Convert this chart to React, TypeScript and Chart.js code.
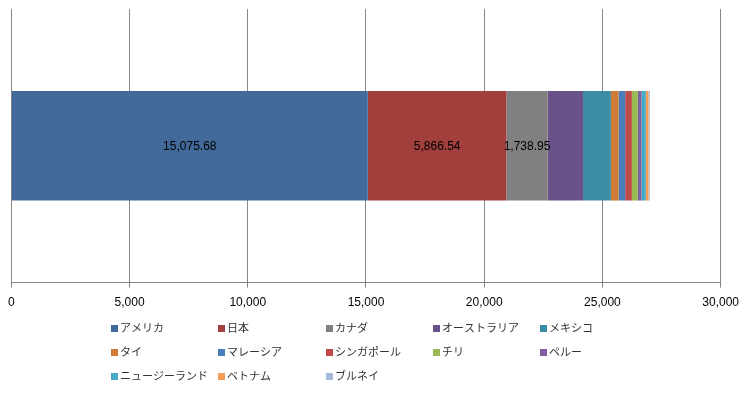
import React, { useEffect, useRef } from "react";
import { Chart, registerables } from "chart.js";

Chart.register(...registerables);

const countries = [
  "アメリカ", "日本", "カナダ", "オーストラリア", "メキシコ",
  "タイ", "マレーシア", "シンガポール", "チリ", "ペルー",
  "ニュージーランド", "ベトナム", "ブルネイ",
];
const values = [
  15075.68, 5866.54, 1738.95, 1496, 1182,
  324, 279, 283, 253, 156,
  181, 114, 55,
];
const colors = [
  "#416A9B", "#A1403D", "#808080", "#6B5189", "#3C8DA4",
  "#D07B38", "#4A7EBB", "#BE4B48", "#98B954", "#7D60A0",
  "#46AAC5", "#F59D56", "#A7B9D8",
];
const labeledSeries = [0, 1, 2];
const xTicks = [0, 5000, 10000, 15000, 20000, 25000, 30000];

const fmt2 = (v: number) =>
  v.toLocaleString("en-US", { minimumFractionDigits: 2, maximumFractionDigits: 2 });

const labelPlugin = {
  id: "segLabels",
  afterDatasetsDraw(chart: any) {
    const ctx = chart.ctx;
    ctx.save();
    ctx.font = '12px "Liberation Sans", Arial, sans-serif';
    ctx.fillStyle = "#000000";
    ctx.textAlign = "center";
    ctx.textBaseline = "middle";
    labeledSeries.forEach((i) => {
      const el: any = chart.getDatasetMeta(i).data[0];
      if (!el) return;
      const cx = (el.x + el.base) / 2;
      ctx.fillText(fmt2(values[i]), cx, el.y + 1);
    });
    ctx.restore();
  },
};

const legendPlugin = {
  id: "gridLegend",
  afterDraw(chart: any) {
    const ctx = chart.ctx;
    ctx.save();
    ctx.font = '11px "Noto Sans CJK JP", sans-serif';
    ctx.textBaseline = "middle";
    ctx.textAlign = "left";
    countries.forEach((name, i) => {
      const col = i % 5;
      const row = Math.floor(i / 5);
      const x = 111 + col * 107.3;
      const cy = 328 + row * 24;
      ctx.fillStyle = colors[i];
      ctx.fillRect(Math.round(x), Math.round(cy - 3.5), 7, 7);
      ctx.fillStyle = "#333333";
      ctx.fillText(name, Math.round(x) + 9, cy);
    });
    ctx.restore();
  },
};

export default function App() {
  const ref = useRef<HTMLCanvasElement | null>(null);
  useEffect(() => {
    if (!ref.current) return;
    const chart = new Chart(ref.current, {
      type: "bar",
      data: {
        labels: [""],
        datasets: countries.map((c, i) => ({
          label: c,
          data: [values[i]],
          backgroundColor: colors[i],
          borderWidth: 0,
          barPercentage: 0.4,
          categoryPercentage: 1,
        })),
      },
      options: {
        indexAxis: "y",
        animation: false,
        responsive: false,
        events: [],
        layout: { padding: { left: 9, right: 26, top: 9, bottom: 76 } },
        plugins: {
          legend: { display: false },
          tooltip: { enabled: false },
          title: { display: false },
        },
        scales: {
          x: {
            stacked: true,
            min: 0,
            max: 30000,
            afterBuildTicks: (axis: any) => {
              axis.ticks = xTicks.map((v) => ({ value: v }));
            },
            grid: { color: "#868686", tickLength: 5, lineWidth: 1 },
            border: { display: true, color: "#868686" },
            ticks: {
              color: "#000000",
              font: { family: '"Liberation Sans", Arial, sans-serif', size: 12 },
              padding: 8,
              maxRotation: 0,
              callback: (v: any) => Number(v).toLocaleString("en-US"),
            },
          },
          y: { stacked: true, display: false },
        },
      },
      plugins: [labelPlugin, legendPlugin],
    });
    return () => chart.destroy();
  }, []);
  return (
    <div style={{ position: "fixed", left: 0, top: 0, width: 747, height: 394, background: "#fff" }}>
      <canvas ref={ref} width={747} height={394} />
    </div>
  );
}
